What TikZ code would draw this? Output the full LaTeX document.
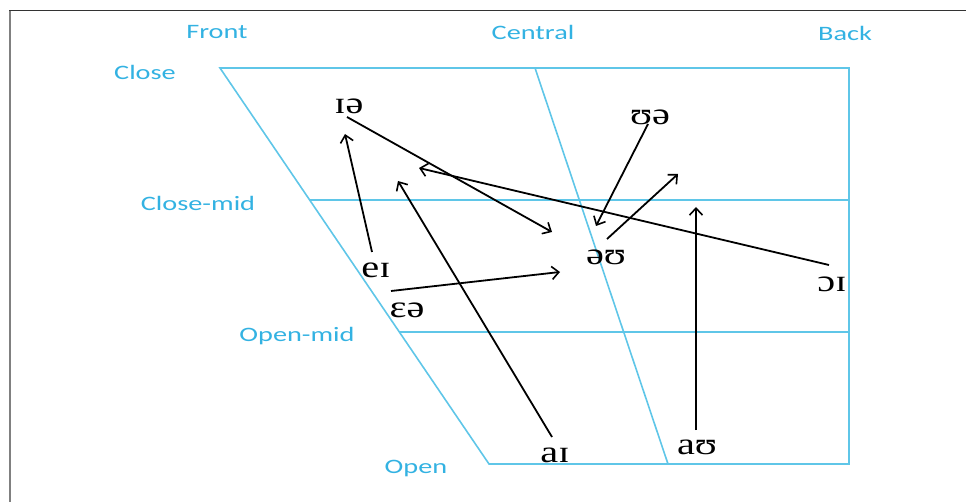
\documentclass[tikz,border=0pt]{standalone}
\usepackage{fontspec}
\setmainfont{Liberation Serif}
\newfontfamily\labfont{Carlito}
\usetikzlibrary{arrows.meta}
\definecolor{labblue}{RGB}{51,178,226}
\definecolor{lineblue}{RGB}{95,198,232}
\tikzset{
  grid/.style={draw=lineblue, line width=1.6pt},
  lab/.style={text=labblue, font=\labfont\fontsize{20.5}{22}\selectfont, xscale=1.38, inner sep=0pt},
  ipa/.style={font=\fontsize{31}{33}\selectfont, xscale=1.3, inner sep=0pt},
  arr/.style={draw=black, line width=1.8pt, -{Straight Barb[length=7pt,width=13pt,line width=1.6pt]}},
}
\begin{document}
\begin{tikzpicture}[x=1pt,y=-1pt]
\useasboundingbox (0,0) rectangle (966,502);
% frame
\draw[draw=black!80, line width=1pt] (9,11) -- (966,11);
\draw[draw=black!50, line width=2pt] (10,11) -- (10,502);
% chart corners
\coordinate (TL) at (220,68);
\coordinate (TR) at (849,68);
\coordinate (BL) at (489,464);
\coordinate (BR) at (849,464);
\coordinate (CT) at (535,68);
\coordinate (CB) at (668,464);
\coordinate (CML) at (309.7,200);
\coordinate (CMR) at (849,200);
\coordinate (OML) at (399.3,332);
\coordinate (OMR) at (849,332);
\draw[grid] (TL) -- (TR) -- (BR) -- (BL) -- cycle;
\draw[grid] (CT) -- (CB);
\draw[grid] (CML) -- (CMR);
\draw[grid] (OML) -- (OMR);
% labels
\node[lab] (front) at (217,32) {Front};
\node[lab] (central) at (533,32) {Central};
\node[lab] (back) at (845,33) {Back};
\node[lab] (close) at (145,72) {Close};
\node[lab] (closemid) at (198,203) {Close-mid};
\node[lab] (openmid) at (297,336) {Open-mid};
\node[lab] (open) at (416,468) {Open};
% vowels
\node[ipa] (ia) at (349,106) {ɪə};
\node[ipa] (ua) at (650,117) {ʊə};
\node[ipa] (ei) at (376,270) {eɪ};
\node[ipa] (ea) at (407,310) {ɛə};
\node[ipa] (ou) at (606,257) {əʊ};
\node[ipa] (oi) at (832,284) {ɔɪ};
\node[ipa] (ai) at (555,455) {aɪ};
\node[ipa] (au) at (697,447) {aʊ};
% arrow end points
\coordinate (ia1) at (347,117);   \coordinate (ia2) at (552,232);
\coordinate (ei1) at (372,252);   \coordinate (ei2) at (345,134);
\coordinate (ai1) at (552,437);   \coordinate (ai2) at (398,181);
\coordinate (oi1) at (829,265);   \coordinate (oi2) at (419,168);
\coordinate (ua1) at (648,124);   \coordinate (ua2) at (596,226);
\coordinate (ou1) at (607,239);   \coordinate (ou2) at (678,174);
\coordinate (ea1) at (391,291);   \coordinate (ea2) at (560,272);
\coordinate (au1) at (696,430);   \coordinate (au2) at (696,207);
\draw[arr] (ia1) -- (ia2);
\draw[arr] (ei1) -- (ei2);
\draw[arr] (ai1) -- (ai2);
\draw[arr] (oi1) -- (oi2);
\draw[arr] (ua1) -- (ua2);
\draw[arr] (ou1) -- (ou2);
\draw[arr] (ea1) -- (ea2);
\draw[arr] (au1) -- (au2);
\end{tikzpicture}
\end{document}
